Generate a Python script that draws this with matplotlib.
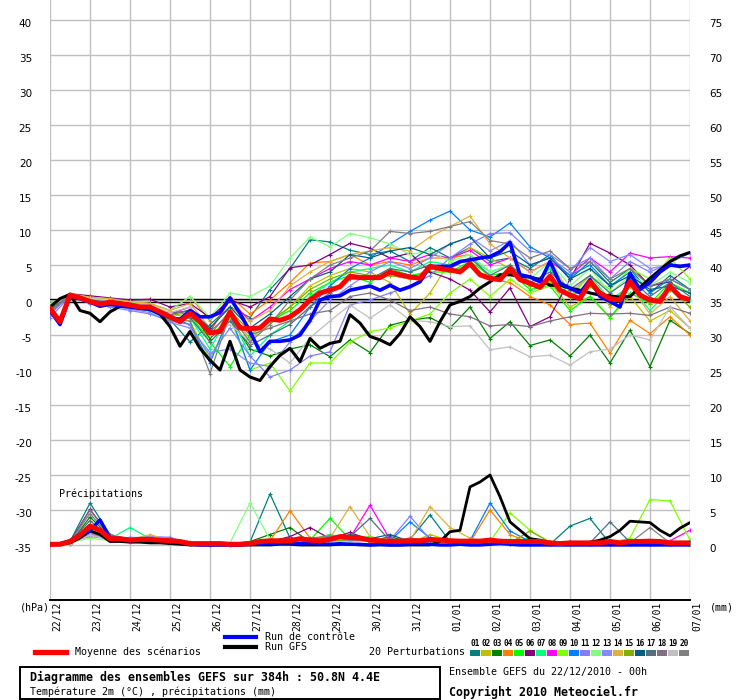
import numpy as np
import matplotlib
matplotlib.use("Agg")
import matplotlib.pyplot as plt
from matplotlib.transforms import ScaledTranslation

# ---- data ----
dates = ["22/12", "23/12", "24/12", "25/12", "26/12", "27/12", "28/12", "29/12", "30/12",
         "31/12", "01/01", "02/01", "03/01", "04/01", "05/01", "06/01", "07/01"]
t6 = np.arange(65) * 0.25    # 6-hourly steps, days since 22/12 00h
t12 = np.arange(33) * 0.5    # 12-hourly steps

mean_t = [-1.2, -3.1, 0.7, 0.3, -0.2, -0.6, -0.3, -0.5, -0.7, -1.0, -1.0, -1.7, -2.4, -3.1, -1.9, -3.1,
          -4.7, -4.5, -1.7, -4.0, -4.1, -4.0, -2.7, -2.9, -2.4, -1.4, 0.0, 1.0, 1.4, 1.9, 3.4, 3.2,
          3.2, 3.2, 4.0, 3.6, 3.3, 3.1, 4.8, 4.5, 4.3, 4.0, 5.2, 3.6, 3.1, 2.9, 4.5, 2.9,
          2.4, 1.8, 3.4, 1.4, 0.7, 0.2, 2.6, 1.0, 0.2, 0.0, 2.6, 0.7, 0.0, -0.2, 2.0, 0.5, 0.0]
ctrl_t = [-1.5, -3.5, 0.5, 0.2, -0.3, -0.9, -0.6, -0.8, -1.0, -1.2, -1.3, -2.0, -2.5, -2.8, -1.5, -2.4,
          -2.4, -1.8, 0.3, -1.9, -4.5, -7.4, -5.9, -5.9, -5.7, -5.0, -2.9, 0.0, 0.5, 0.6, 1.4, 1.7,
          2.0, 1.4, 2.1, 1.4, 1.9, 2.6, 4.8, 4.8, 4.8, 5.5, 5.7, 6.0, 6.2, 6.9, 8.2, 3.6,
          3.3, 2.6, 5.5, 2.4, 1.7, 1.0, 2.9, 0.5, -0.2, -1.0, 3.8, 1.5, 2.5, 4.0, 5.0, 4.8, 5.0]
gfs_t = [-1.0, 0.2, 0.8, -1.5, -1.9, -3.1, -1.7, -0.9, -0.8, -1.2, -1.3, -2.0, -3.8, -6.6, -4.5, -6.9,
         -8.6, -10.0, -5.9, -10.0, -11.0, -11.5, -9.5, -7.9, -6.9, -8.8, -5.5, -6.9, -6.2, -5.9, -2.1, -3.3,
         -5.2, -5.7, -6.4, -4.8, -2.4, -3.8, -5.9, -3.1, -0.7, -0.2, 0.5, 1.7, 2.6, 3.6, 3.6, 3.4,
         3.3, 2.9, 2.1, 2.1, 1.7, 1.4, 1.0, 0.7, 0.6, 0.4, 0.5, 1.8, 3.1, 4.3, 5.5, 6.3, 6.8]

mean_p = [0.1, 0.1, 0.5, 1.4, 2.7, 2.1, 0.9, 0.9, 0.7, 0.8, 0.8, 0.7, 0.6, 0.5, 0.2, 0.2,
          0.2, 0.2, 0.1, 0.1, 0.2, 0.5, 0.6, 0.6, 0.6, 0.9, 0.7, 0.6, 0.8, 1.2, 1.1, 1.0,
          0.7, 0.6, 0.55, 0.55, 0.6, 0.6, 0.8, 0.7, 0.6, 0.55, 0.55, 0.55, 0.7, 0.55, 0.5, 0.5,
          0.5, 0.5, 0.3, 0.2, 0.3, 0.3, 0.3, 0.3, 0.5, 0.3, 0.5, 0.5, 0.55, 0.5, 0.3, 0.3, 0.3]
ctrl_p = [0.1, 0.2, 0.6, 1.5, 2.0, 3.6, 1.0, 0.8, 0.6, 0.7, 0.7, 0.6, 0.5, 0.4, 0.1, 0.0,
          0.0, 0.0, 0.0, 0.0, 0.1, 0.1, 0.2, 0.3, 0.3, 0.2, 0.3, 0.2, 0.1, 0.2, 0.1, 0.1,
          0.0, 0.1, 0.0, 0.0, 0.1, 0.2, 0.1, 0.0, 0.0, 0.1, 0.0, 0.0, 0.1, 0.2, 0.1, 0.0,
          0.0, 0.0, 0.0, 0.0, 0.0, 0.0, 0.0, 0.0, 0.0, 0.0, 0.0, 0.0, 0.0, 0.0, 0.0, 0.0, 0.0]
gfs_p = [0.0, 0.1, 0.3, 1.0, 2.0, 1.5, 0.5, 0.5, 0.4, 0.4, 0.3, 0.3, 0.2, 0.1, 0.0, 0.0,
         0.0, 0.0, 0.0, 0.0, 0.0, 0.0, 0.0, 0.1, 0.1, 0.0, 0.0, 0.0, 0.0, 0.1, 0.1, 0.0,
         0.0, 0.0, 0.0, 0.0, 0.0, 0.0, 0.0, 0.5, 1.9, 2.1, 8.3, 9.0, 10.0, 6.9, 3.3, 2.1,
         0.9, 0.7, 0.3, 0.2, 0.2, 0.3, 0.4, 0.7, 1.2, 2.1, 3.4, 3.3, 3.2, 2.1, 1.3, 2.4, 3.2]

pert_colors = ["#008080", "#c0c000", "#008000", "#ff8000", "#00ff00", "#800080", "#00ff80",
               "#ff00ff", "#80ff00", "#0080ff", "#8080ff", "#80ff80", "#8888ff", "#e0b040",
               "#80b000", "#006080", "#507080", "#807080", "#c0c0c0", "#808080"]

pert_t = [
    [-2.0, 0.8, 0.0, -0.2, -0.5, -1.2, -2.8, -6.0, -3.5, -1.0, -2.5, 1.5, 4.5, 8.6, 8.3, 7.1, 6.5,
     7.0, 5.5, 7.5, 6.0, 7.5, 5.5, 6.0, 4.5, 6.5, 3.0, 5.5, 2.5, 4.5, 1.0, 3.5, 1.5],
    [-1.5, 0.6, -0.3, -0.5, -1.0, -1.5, -2.0, -2.5, -5.5, -2.0, -5.5, -3.5, -1.0, 2.0, 3.5, 4.5, 4.0,
     2.5, -2.0, 1.0, 5.5, 7.5, 6.0, 4.5, 3.0, 2.5, -1.0, 0.5, -2.5, 0.5, -3.0, -1.5, -4.0],
    [-1.0, 0.7, 0.2, -0.2, -0.5, -1.0, -2.0, -1.5, -5.5, -2.5, -7.0, -8.0, -7.0, -6.4, -8.1, -5.7, -7.5,
     -3.6, -2.9, -2.5, -4.0, -1.0, -5.5, -3.1, -6.5, -5.7, -8.0, -5.0, -9.0, -4.3, -9.5, -2.9, -4.8],
    [-1.8, 0.8, 0.2, 0.0, -0.3, -0.5, -1.5, 0.5, -3.0, 0.5, -2.0, 0.0, 2.5, 5.3, 5.5, 6.5, 5.0,
     5.5, 5.0, 6.0, 6.0, 6.5, 3.0, 2.5, 0.5, -0.7, -3.5, -3.3, -7.6, -2.9, -4.8, -2.4, -5.0],
    [-0.8, 0.6, -0.4, -0.8, -1.2, -1.5, -3.0, -2.0, -6.0, -9.5, -5.0, -3.0, -1.5, 1.0, 2.5, 3.5, 2.5,
     4.5, 3.5, 4.0, 4.0, 5.5, 3.5, 4.0, 1.5, 2.0, -1.5, 0.5, -2.5, 1.0, -0.5, 2.5, 1.0],
    [-1.0, 0.9, 0.6, 0.3, 0.0, 0.1, -1.0, -0.5, -2.5, 0.0, -1.0, 0.5, 4.6, 5.0, 6.5, 8.1, 7.4,
     6.0, 6.7, 4.0, 3.0, 1.4, -1.7, 1.7, -3.8, -2.4, 3.0, 8.1, 6.7, 5.0, 2.0, 2.6, 4.8],
    [-1.3, 0.7, -0.2, -0.5, -1.0, -1.5, -3.0, -2.5, -7.0, -2.0, -8.0, -5.0, -3.0, 0.5, 2.5, 4.0, 4.5,
     5.0, 4.0, 5.5, 5.0, 6.0, 4.0, 5.0, 2.0, 4.5, 0.5, 3.5, 0.0, 2.0, -1.5, 1.5, 0.0],
    [-1.5, 0.8, 0.0, -0.3, -0.8, -1.0, -2.0, -1.0, -4.5, 0.0, -3.0, -1.0, 1.5, 3.0, 4.5, 5.5, 5.0,
     6.0, 5.5, 6.5, 6.0, 7.1, 5.0, 6.0, 4.0, 5.5, 3.5, 6.0, 4.0, 6.7, 6.0, 6.2, 6.0],
    [-1.2, 0.6, -0.3, -0.6, -1.0, -1.3, -2.5, -3.0, -8.5, -2.5, -10.0, -9.0, -13.0, -9.0, -9.0, -6.0, -4.5,
     -4.0, -3.0, -2.0, 1.0, 3.0, 0.5, 3.0, 1.0, 2.0, 0.5, 3.5, 1.5, 4.5, 3.0, 6.0, 3.0],
    [-1.8, 0.7, -0.4, -0.5, -1.0, -1.5, -2.5, -3.5, -9.0, -2.0, -10.0, -6.0, -5.0, -1.0, 2.0, 4.5, 6.0,
     8.0, 9.8, 11.4, 12.7, 10.0, 9.0, 11.0, 7.6, 6.0, 3.5, 5.0, 2.0, 4.0, 1.0, 3.0, 1.5],
    [-2.5, 0.5, -0.5, -1.0, -1.5, -2.0, -3.0, -3.5, -8.0, -4.0, -8.0, -11.0, -10.0, -8.0, -7.4, -0.7, 0.0,
     1.0, 2.0, 3.5, 6.0, 8.0, 9.5, 9.6, 7.0, 6.5, 4.5, 6.0, 3.0, 5.5, 4.0, 5.3, 6.7],
    [-0.5, 0.8, 0.3, 0.0, -0.3, -0.5, -1.5, 0.5, -2.5, 1.0, 0.5, 2.0, 6.0, 9.0, 7.6, 9.5, 8.9,
     8.0, 6.5, 7.0, 5.5, 6.5, 4.0, 5.0, 3.0, 5.5, 2.0, 4.5, 1.0, 3.5, 2.0, 4.0, 2.5],
    [-2.0, 0.6, -0.4, -0.8, -1.3, -1.8, -3.2, -4.0, -7.5, -7.0, -9.0, -9.5, -6.0, -3.0, 0.0, 2.0, 4.0,
     5.5, 4.5, 6.0, 8.0, 9.0, 7.0, 8.5, 5.0, 6.0, 4.0, 7.5, 5.5, 6.5, 4.5, 5.0, 5.0],
    [-1.0, 0.9, 0.4, 0.2, -0.2, -0.5, -1.5, -0.5, -4.0, -1.0, -3.0, -1.5, 2.0, 4.0, 5.5, 6.5, 7.0,
     7.5, 7.0, 9.0, 10.5, 12.0, 8.0, 6.0, 4.0, 5.5, 1.0, 3.5, -1.0, 2.0, -2.0, 0.5, -3.0],
    [-1.5, 0.7, -0.1, -0.4, -0.8, -1.2, -2.2, -1.8, -5.0, -1.5, -4.5, -3.0, -1.0, 1.5, 3.0, 4.0, 3.5,
     3.5, 3.0, 4.5, 4.0, 5.0, 3.0, 4.0, 2.0, 3.0, 0.5, 2.0, -0.5, 2.0, -0.5, 1.5, -1.0],
    [-1.3, 0.7, 0.0, -0.3, -0.6, -1.0, -2.0, -1.5, -4.0, -1.0, -4.0, -2.0, 0.5, 3.0, 4.0, 6.5, 6.0,
     7.0, 7.5, 6.5, 8.0, 9.0, 6.0, 7.0, 5.0, 6.0, 3.0, 4.5, 2.0, 3.5, 1.5, 2.0, 1.0],
    [-1.6, 0.6, -0.2, -0.5, -0.9, -1.3, -2.6, -2.5, -6.0, -3.0, -6.5, -5.0, -3.5, -1.0, 1.0, 3.0, 3.0,
     4.5, 4.0, 5.0, 4.5, 6.0, 3.5, 5.0, 2.5, 4.0, 1.5, 3.5, 1.0, 3.0, 0.5, 2.5, 0.5],
    [-1.4, 0.7, 0.1, -0.2, -0.5, -0.8, -2.0, -1.5, -4.5, -2.0, -5.0, -4.0, -3.0, -2.0, -1.5, 0.5, 1.0,
     0.0, -1.5, -1.0, -2.0, -2.4, -3.7, -3.5, -3.8, -3.0, -2.4, -1.9, -2.0, -1.9, -2.2, -1.0, -1.9],
    [-1.0, 0.8, 0.2, -0.1, -0.5, -0.8, -1.8, -1.0, -5.0, -3.5, -6.0, -7.0, -9.0, -5.4, -3.0, -0.7, -2.6,
     -0.7, -2.9, -3.1, -3.8, -3.7, -7.1, -6.7, -8.1, -7.9, -9.3, -7.4, -7.0, -5.0, -5.7, -1.0, -4.0],
    [-1.7, 0.6, -0.3, -0.6, -1.0, -1.4, -2.8, -3.0, -10.5, -2.0, -6.0, -3.5, 0.0, 3.0, 5.0, 6.0, 7.0,
     9.8, 9.5, 9.8, 10.5, 11.2, 8.5, 8.0, 6.0, 7.0, 4.5, 5.5, 3.0, 4.5, 2.0, 3.0, 1.5],
]

pert_p = [
    [0.1, 0.5, 6.0, 1.5, 0.8, 0.9, 0.7, 0.2, 0.1, 0.3, 0.4, 7.3, 1.0, 0.5, 0.7, 1.2, 0.6, 0.4, 0.8, 4.3, 0.5, 0.3, 0.4, 0.2, 0.3, 0.1, 2.7, 3.8, 0.2, 0.4, 0.1, 0.2, 0.1],
    [0.2, 0.3, 3.0, 1.0, 0.6, 0.8, 0.9, 0.3, 0.2, 0.0, 0.2, 0.5, 0.9, 0.8, 1.5, 0.7, 1.0, 0.5, 0.3, 1.5, 0.6, 0.2, 0.3, 0.5, 0.2, 0.4, 0.3, 0.2, 0.5, 0.1, 0.2, 0.4, 0.2],
    [0.0, 0.2, 4.0, 1.2, 0.5, 0.7, 1.0, 0.2, 0.0, 0.1, 0.5, 1.5, 2.5, 0.4, 1.0, 0.8, 0.5, 1.2, 0.4, 0.6, 0.3, 0.4, 0.9, 0.3, 0.5, 0.2, 0.1, 0.3, 0.2, 0.1, 0.3, 0.2, 0.4],
    [0.1, 0.4, 2.5, 0.8, 0.9, 0.6, 0.7, 0.4, 0.1, 0.0, 0.3, 0.6, 4.9, 1.0, 0.5, 0.9, 0.6, 0.4, 0.5, 1.0, 0.3, 0.4, 5.0, 1.5, 0.3, 0.2, 0.1, 0.2, 0.1, 0.3, 0.2, 0.1, 0.2],
    [0.1, 0.3, 2.0, 0.9, 0.7, 0.8, 0.6, 0.3, 0.2, 0.1, 0.2, 0.4, 1.0, 0.7, 3.8, 0.8, 1.2, 0.6, 0.5, 0.4, 0.8, 0.3, 0.5, 0.4, 1.0, 0.3, 0.2, 0.4, 0.3, 0.2, 0.5, 0.3, 0.2],
    [0.2, 0.4, 5.1, 1.3, 0.6, 0.7, 0.9, 0.2, 0.1, 0.2, 0.3, 0.5, 1.2, 2.5, 0.9, 1.8, 0.7, 0.5, 0.4, 0.5, 0.4, 0.6, 0.3, 0.2, 0.4, 0.3, 0.5, 0.2, 0.3, 0.2, 0.1, 0.3, 0.2],
    [0.1, 0.3, 2.2, 0.9, 2.5, 0.9, 0.7, 0.3, 0.2, 0.1, 0.4, 0.6, 0.8, 0.6, 1.5, 0.9, 0.6, 0.7, 0.3, 0.8, 0.5, 0.4, 0.3, 0.6, 0.2, 0.3, 0.2, 0.3, 0.2, 0.5, 0.3, 0.2, 0.3],
    [0.0, 0.2, 1.8, 0.7, 0.5, 0.6, 0.8, 0.1, 0.2, 0.0, 0.2, 0.3, 0.7, 0.5, 0.6, 1.0, 5.7, 0.8, 0.4, 0.3, 0.6, 0.3, 0.4, 0.2, 0.3, 0.1, 0.3, 0.2, 0.4, 0.3, 0.2, 0.6, 2.1],
    [0.1, 0.3, 1.5, 0.8, 0.6, 0.7, 0.5, 0.2, 0.1, 0.1, 0.4, 0.5, 0.6, 0.8, 0.7, 0.5, 0.9, 0.4, 0.6, 0.5, 0.3, 0.8, 0.5, 4.6, 2.1, 0.4, 0.3, 0.5, 0.3, 1.0, 6.5, 6.3, 0.7],
    [0.1, 0.4, 2.8, 1.1, 0.8, 0.7, 0.6, 0.3, 0.0, 0.1, 0.2, 0.4, 0.9, 0.7, 0.8, 1.1, 0.9, 0.6, 3.3, 1.0, 0.4, 0.6, 6.0, 2.0, 0.5, 0.2, 0.1, 0.2, 0.1, 0.2, 0.3, 0.1, 0.2],
    [0.2, 0.5, 1.2, 0.9, 1.0, 1.2, 1.1, 0.2, 0.1, 0.0, 0.1, 0.3, 0.5, 0.4, 0.6, 0.8, 0.5, 0.7, 4.1, 0.8, 0.3, 0.5, 0.6, 0.3, 0.5, 0.4, 0.2, 0.1, 0.3, 0.2, 0.4, 0.2, 0.5],
    [0.1, 0.3, 1.0, 0.6, 0.5, 0.6, 0.7, 0.2, 0.1, 0.3, 6.0, 0.8, 0.5, 0.7, 0.9, 0.6, 0.8, 0.4, 0.5, 0.7, 0.4, 0.3, 0.5, 0.8, 0.6, 0.3, 0.2, 0.4, 0.2, 0.6, 0.4, 0.3, 0.2],
    [0.1, 0.4, 1.6, 0.8, 1.1, 1.0, 0.9, 0.2, 0.2, 0.1, 0.3, 0.6, 0.4, 0.5, 0.6, 0.7, 1.0, 0.5, 0.6, 0.4, 0.5, 0.4, 0.3, 0.5, 0.4, 0.2, 0.3, 0.2, 0.2, 0.3, 0.2, 0.4, 0.3],
    [0.0, 0.3, 1.8, 1.0, 0.7, 1.5, 0.6, 0.3, 0.1, 0.0, 0.2, 0.5, 0.8, 0.6, 1.0, 5.5, 1.2, 0.5, 0.6, 5.5, 2.5, 1.0, 0.4, 0.3, 0.2, 0.3, 0.1, 0.2, 0.2, 0.1, 0.3, 0.2, 0.1],
    [0.1, 0.2, 2.2, 0.8, 0.6, 0.7, 0.8, 0.2, 0.1, 0.2, 0.3, 0.7, 0.6, 0.9, 0.5, 0.8, 0.6, 0.5, 0.4, 0.6, 0.3, 0.5, 0.4, 0.3, 2.0, 0.4, 0.3, 0.2, 0.4, 0.3, 0.2, 0.3, 0.2],
    [0.1, 0.3, 2.6, 1.1, 0.7, 0.9, 0.7, 0.3, 0.2, 0.1, 0.2, 0.4, 0.7, 0.8, 0.6, 1.5, 0.9, 1.5, 0.5, 0.7, 0.4, 0.3, 0.5, 0.4, 0.3, 0.2, 0.4, 0.3, 0.2, 0.2, 0.3, 0.2, 0.3],
    [0.2, 0.4, 3.5, 1.0, 0.8, 0.6, 0.9, 0.2, 0.1, 0.2, 0.3, 0.6, 1.0, 0.7, 0.8, 1.2, 3.8, 0.6, 0.4, 0.5, 0.6, 0.4, 0.3, 0.5, 0.4, 0.3, 0.2, 0.3, 3.3, 0.4, 0.3, 0.2, 0.2],
    [0.1, 0.3, 5.0, 1.4, 0.6, 0.7, 0.8, 0.2, 0.1, 0.1, 0.3, 0.5, 0.8, 1.0, 1.2, 0.7, 0.6, 0.5, 1.0, 0.6, 0.5, 0.7, 0.4, 0.3, 0.2, 0.3, 0.2, 0.1, 0.2, 0.3, 0.2, 0.1, 0.2],
    [0.0, 0.2, 1.4, 0.7, 0.5, 0.6, 0.5, 0.1, 0.0, 0.0, 0.1, 0.3, 0.4, 0.3, 0.5, 0.4, 0.6, 0.3, 0.2, 0.4, 0.3, 0.2, 0.3, 0.2, 0.1, 0.2, 0.1, 0.2, 0.1, 0.2, 0.1, 0.2, 0.1],
    [0.1, 0.4, 4.5, 1.2, 0.8, 0.9, 0.7, 0.3, 0.1, 0.2, 0.4, 0.5, 0.9, 0.8, 1.3, 0.9, 0.7, 0.8, 0.5, 0.6, 0.4, 0.3, 0.6, 0.4, 0.3, 0.2, 0.3, 0.2, 0.4, 0.3, 2.5, 0.3, 0.2],
]

W, H = 740, 700
mono = "DejaVu Sans Mono"


def fx(x):
    return x / W


def fy(y):
    return 1 - y / H


fig = plt.figure(figsize=(W / 100, H / 100), dpi=100)
ax = fig.add_axes([fx(50), fy(600), 640 / W, 600 / H])
ylo, yhi = 40 - 580 / 7, 40 + 20 / 7
ax.set_xlim(0, 16)
ax.set_ylim(ylo, yhi)

ax2 = ax.twinx()
ax2.set_ylim(ylo + 35, yhi + 35)

for a in (ax, ax2):
    for s in a.spines.values():
        s.set_visible(False)
ax.spines["bottom"].set_visible(True)
ax.spines["bottom"].set_linewidth(1.4)
ax.spines["bottom"].set_color("black")

ax.set_xticks(range(17))
ax.set_xticklabels(dates, rotation=90, family=mono, fontsize=7)
ax.set_yticks(np.arange(-35, 41, 5))
ax.set_yticklabels([str(v) for v in range(-35, 41, 5)], fontsize=7.5)
ax2.set_yticks(np.arange(0, 76, 5))
ax2.set_yticklabels([str(v) for v in range(0, 76, 5)], fontsize=7.5)
ax.tick_params(axis="x", length=0, pad=1.5)
ax.tick_params(axis="y", length=0, pad=13)
ax2.tick_params(axis="y", length=0, pad=14)
ax.grid(True, color="#c0c0c0", linewidth=1.0)
ax.set_axisbelow(True)

shift_x = ScaledTranslation(7.5 / 100, 0, fig.dpi_scale_trans)
for lab in ax.get_xticklabels():
    lab.set_transform(lab.get_transform() + shift_x)
shift_y = ScaledTranslation(0, -3 / 100, fig.dpi_scale_trans)
for lab in ax.get_yticklabels() + ax2.get_yticklabels():
    lab.set_transform(lab.get_transform() + shift_y)

# double zero line
ax.axhline(0.2, color="black", lw=1.0, zorder=1.5)
ax.axhline(-0.25, color="black", lw=1.0, zorder=1.5)

# temperature
for c, vals in zip(pert_colors, pert_t):
    ax.plot(t12, vals, color=c, lw=0.9, marker="+", ms=3, mew=0.8, zorder=2)
ax.plot(t6, gfs_t, color="black", lw=2.2, zorder=3)
ax.plot(t6, ctrl_t, color="#0000ff", lw=2.6, zorder=3.2)
ax.plot(t6, mean_t, color="#ff0000", lw=3.6, zorder=3.5)

# precipitation
for c, vals in zip(pert_colors, pert_p):
    ax2.plot(t12, vals, color=c, lw=0.9, marker="+", ms=3, mew=0.8, zorder=2)
ax2.plot(t6, gfs_p, color="black", lw=2.0, zorder=3)
ax2.plot(t6, ctrl_p, color="#0000ff", lw=2.4, zorder=3.2)
ax2.plot(t6, mean_p, color="#ff0000", lw=3.6, zorder=3.5)

ax.text(fx(59) , fy(494), "Précipitations", transform=fig.transFigure, family=mono,
        fontsize=7.2, va="center", ha="left")

fig.text(fx(20), fy(607), "(hPa)", family=mono, fontsize=7.2, va="center", ha="left")
fig.text(fx(710), fy(607), "(mm)", family=mono, fontsize=7.2, va="center", ha="left")

# legend
fig.add_artist(plt.Line2D([fx(35), fx(66)], [fy(652), fy(652)], color="#ff0000", lw=3.8))
fig.text(fx(75), fy(652), "Moyenne des scénarios", family=mono, fontsize=7.2, va="center")
fig.add_artist(plt.Line2D([fx(225), fx(256)], [fy(637), fy(637)], color="#0000ff", lw=3.0))
fig.text(fx(265), fy(637), "Run de contrôle", family=mono, fontsize=7.2, va="center")
fig.add_artist(plt.Line2D([fx(225), fx(256)], [fy(647), fy(647)], color="black", lw=3.0))
fig.text(fx(265), fy(647), "Run GFS", family=mono, fontsize=7.2, va="center")
fig.text(fx(369), fy(652), "20 Perturbations", family=mono, fontsize=7.2, va="center")
for i, c in enumerate(pert_colors):
    x0 = 470 + i * 11
    fig.add_artist(plt.Rectangle((fx(x0), fy(656)), 10 / W, 6 / H, color=c, lw=0))
    fig.text(fx(x0 + 5), fy(644), "%02d" % (i + 1), family=mono, fontsize=5.6,
             fontweight="bold", ha="center", va="center")

# title box
fig.add_artist(plt.Rectangle((fx(20), fy(699)), 420 / W, 32 / H, fill=False,
                             edgecolor="black", lw=1.4))
fig.text(fx(30), fy(677), "Diagramme des ensembles GEFS sur 384h : 50.8N 4.4E", family=mono,
         fontsize=8.4, fontweight="bold", va="center")
fig.text(fx(30), fy(692), "Température 2m (°C) , précipitations (mm)", family=mono,
         fontsize=7.2, va="center")
fig.text(fx(449), fy(672), "Ensemble GEFS du 22/12/2010 - 00h", family=mono, fontsize=7.2,
         va="center")
fig.text(fx(449), fy(692), "Copyright 2010 Meteociel.fr", family=mono, fontsize=8.4,
         fontweight="bold", va="center")

fig.savefig("out.png", dpi=100, facecolor="white")
